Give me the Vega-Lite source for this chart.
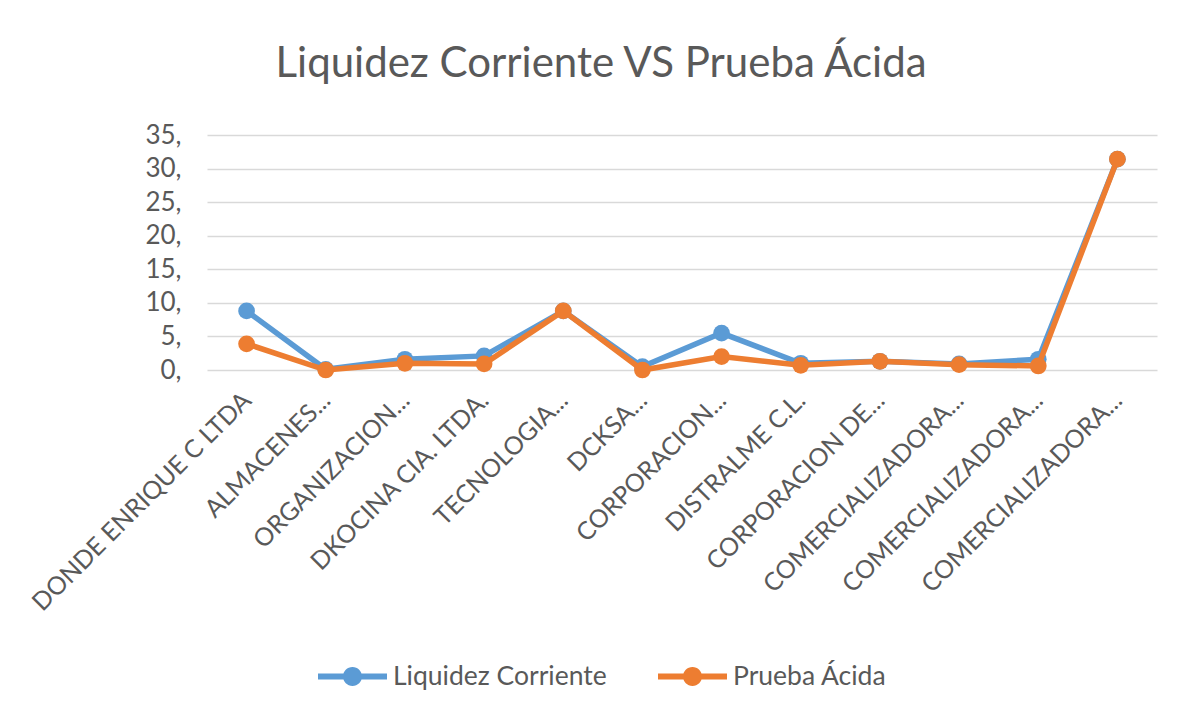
{
  "$schema": "https://vega.github.io/schema/vega-lite/v6.json",
  "width": 950,
  "height": 235,
  "autosize": {"type": "none"},
  "padding": {"left": 207, "top": 135, "right": 20, "bottom": 346},
  "background": "white",
  "title": {
    "text": "Liquidez Corriente VS Prueba Ácida",
    "font": "Lato",
    "fontSize": 42,
    "fontWeight": "normal",
    "color": "#595959",
    "anchor": "middle",
    "dx": -81,
    "offset": 36
  },
  "data": {
    "values": [
      {"empresa": "DONDE ENRIQUE C LTDA", "serie": "Liquidez Corriente", "valor": 8.8},
      {"empresa": "ALMACENES...", "serie": "Liquidez Corriente", "valor": 0.1},
      {"empresa": "ORGANIZACION...", "serie": "Liquidez Corriente", "valor": 1.6},
      {"empresa": "DKOCINA CIA. LTDA.", "serie": "Liquidez Corriente", "valor": 2.1},
      {"empresa": "TECNOLOGIA...", "serie": "Liquidez Corriente", "valor": 8.8},
      {"empresa": "DCKSA...", "serie": "Liquidez Corriente", "valor": 0.5},
      {"empresa": "CORPORACION...", "serie": "Liquidez Corriente", "valor": 5.5},
      {"empresa": "DISTRALME C.L.", "serie": "Liquidez Corriente", "valor": 1.0},
      {"empresa": "CORPORACION DE...", "serie": "Liquidez Corriente", "valor": 1.3},
      {"empresa": "COMERCIALIZADORA...#1", "serie": "Liquidez Corriente", "valor": 0.9},
      {"empresa": "COMERCIALIZADORA...#2", "serie": "Liquidez Corriente", "valor": 1.6},
      {"empresa": "COMERCIALIZADORA...#3", "serie": "Liquidez Corriente", "valor": 31.4},
      {"empresa": "DONDE ENRIQUE C LTDA", "serie": "Prueba Ácida", "valor": 3.9},
      {"empresa": "ALMACENES...", "serie": "Prueba Ácida", "valor": 0.0},
      {"empresa": "ORGANIZACION...", "serie": "Prueba Ácida", "valor": 1.0},
      {"empresa": "DKOCINA CIA. LTDA.", "serie": "Prueba Ácida", "valor": 0.9},
      {"empresa": "TECNOLOGIA...", "serie": "Prueba Ácida", "valor": 8.8},
      {"empresa": "DCKSA...", "serie": "Prueba Ácida", "valor": 0.0},
      {"empresa": "CORPORACION...", "serie": "Prueba Ácida", "valor": 2.0},
      {"empresa": "DISTRALME C.L.", "serie": "Prueba Ácida", "valor": 0.7},
      {"empresa": "CORPORACION DE...", "serie": "Prueba Ácida", "valor": 1.3},
      {"empresa": "COMERCIALIZADORA...#1", "serie": "Prueba Ácida", "valor": 0.8},
      {"empresa": "COMERCIALIZADORA...#2", "serie": "Prueba Ácida", "valor": 0.6},
      {"empresa": "COMERCIALIZADORA...#3", "serie": "Prueba Ácida", "valor": 31.4}
    ]
  },
  "encoding": {
    "x": {
      "field": "empresa",
      "type": "nominal",
      "sort": null,
      "title": null,
      "axis": {
        "labelExpr": "split(datum.label, '#')[0]",
        "labelAngle": -45,
        "labelAlign": "right",
        "labelBaseline": "middle",
        "labelFont": "Lato",
        "labelFontSize": 25,
        "labelColor": "#595959",
        "labelPadding": 26,
        "labelLimit": 400,
        "domain": false,
        "ticks": false,
        "grid": false
      }
    },
    "y": {
      "field": "valor",
      "type": "quantitative",
      "title": null,
      "scale": {"domain": [0, 35], "nice": false},
      "axis": {
        "values": [0, 5, 10, 15, 20, 25, 30, 35],
        "format": "d",
        "labelExpr": "datum.label + ','",
        "labelFont": "Lato",
        "labelFontSize": 26,
        "labelColor": "#595959",
        "labelPadding": 26,
        "domain": false,
        "ticks": false,
        "grid": true,
        "gridColor": "#d9d9d9",
        "gridWidth": 1.3
      }
    },
    "color": {
      "field": "serie",
      "type": "nominal",
      "scale": {"domain": ["Liquidez Corriente", "Prueba Ácida"], "range": ["#5B9BD5", "#ED7D31"]},
      "legend": {
        "title": null,
        "orient": "none",
        "direction": "horizontal",
        "legendX": 111,
        "legendY": 507,
        "symbolType": "M-1,-0.087H1V0.087H-1Z M0.275,0A0.275,0.275,0,1,1,-0.275,0A0.275,0.275,0,1,1,0.275,0Z",
        "symbolSize": 4761,
        "symbolStrokeWidth": 0,
        "labelFont": "Lato",
        "labelFontSize": 26.5,
        "labelColor": "#595959",
        "labelOffset": 6,
        "columnPadding": 51,
        "labelLimit": 400,
        "encode": {
          "symbols": {"update": {"fill": {"scale": "color", "field": "value"}, "opacity": {"value": 1}}}
        }
      }
    }
  },
  "layer": [
    {"transform": [{"filter": "datum.serie === 'Liquidez Corriente'"}], "mark": {"type": "line", "strokeWidth": 5.5}},
    {"transform": [{"filter": "datum.serie === 'Liquidez Corriente'"}], "mark": {"type": "point", "filled": true, "size": 280, "opacity": 1}},
    {"transform": [{"filter": "datum.serie === 'Prueba Ácida'"}], "mark": {"type": "line", "strokeWidth": 5.5}},
    {"transform": [{"filter": "datum.serie === 'Prueba Ácida'"}], "mark": {"type": "point", "filled": true, "size": 280, "opacity": 1}}
  ],
  "config": {
    "view": {"stroke": null}
  }
}
